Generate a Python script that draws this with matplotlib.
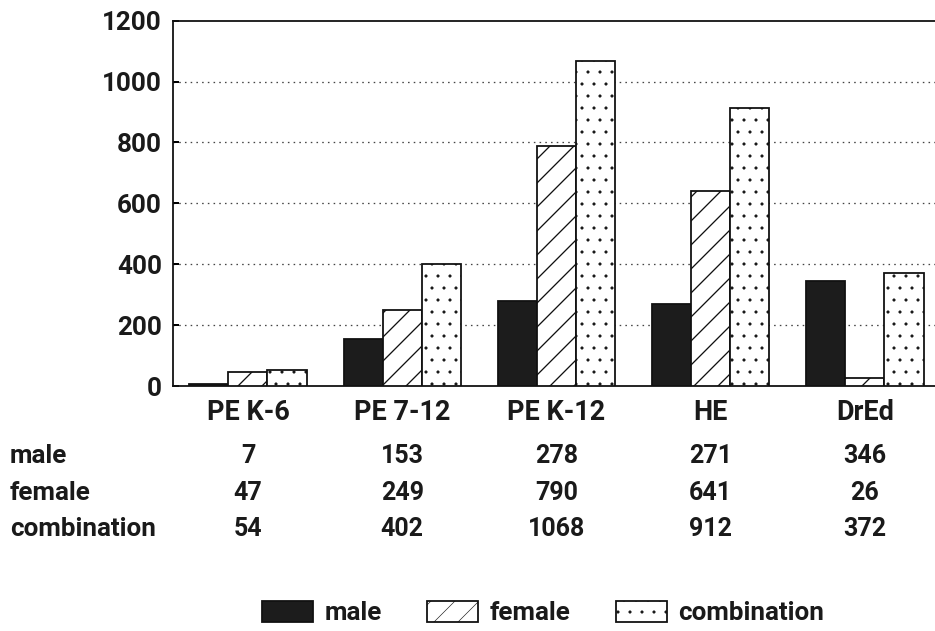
import matplotlib
matplotlib.use("Agg")
import matplotlib.pyplot as plt
import matplotlib.transforms as mtransforms
import numpy as np

# Enrollment counts by program
categories = ["PE K-6", "PE 7-12", "PE K-12", "HE", "DrEd"]
male = [7, 153, 278, 271, 346]
female = [47, 249, 790, 641, 26]
combination = [54, 402, 1068, 912, 372]
series_names = ["male", "female", "combination"]
y_ticks = [0, 200, 400, 600, 800, 1000, 1200]

plt.rcParams["font.family"] = ["Roboto", "DejaVu Sans"]
plt.rcParams["font.weight"] = "bold"

DPI = 72
fig = plt.figure(figsize=(935 / DPI, 631 / DPI), dpi=DPI)
ax = fig.add_axes([173 / 935, 1 - 386 / 631, 1 - 173 / 935 + 0.01, (386 - 20.7) / 631])

x = np.arange(len(categories))
w = 0.253
edge = dict(edgecolor="#111111", linewidth=1.8, zorder=3)

b1 = ax.bar(x - w, male, w, color="#1c1c1c", label=series_names[0], **edge)

plt.rcParams["hatch.linewidth"] = 1.3
plt.rcParams["hatch.color"] = "#222222"
b2 = ax.bar(x, female, w, color="white", hatch="/", label=series_names[1], **edge)

plt.rcParams["hatch.linewidth"] = 0.6
plt.rcParams["hatch.color"] = "#777777"
b3 = ax.bar(x + w, combination, w, color="white", hatch=".", label=series_names[2],
            **edge)

ax.set_xlim(-0.486, 4.454 + 0.01 * 935 / 154.25)
ax.set_ylim(0, 1200)
ax.set_yticks(y_ticks)
ax.set_yticklabels([str(v) for v in y_ticks], fontsize=26, fontweight="bold",
                   color="#1a1a1a")
ax.set_xticks([])
ax.tick_params(axis="y", direction="in", length=6, width=2, pad=11)

for y in y_ticks[1:-1]:
    ax.axhline(y, color="#444444", linewidth=1.3, linestyle=(0, (1.2, 3.2)), zorder=1)

for s in ["left", "bottom", "top"]:
    ax.spines[s].set_linewidth(1.8)
    ax.spines[s].set_color("#111111")
ax.spines["right"].set_visible(False)

# Category labels and data table below the axis
trans = mtransforms.blended_transform_factory(ax.transData, fig.transFigure)
def fy(py):
    return 1 - py / 631

TXT = "#1a1a1a"
for xi, cat in zip(x, categories):
    ax.text(xi, fy(412), cat, transform=trans, ha="center", va="center",
            fontsize=27, fontweight="bold", color=TXT)

rows = [("male", male, 456), ("female", female, 493), ("combination", combination, 529)]
for name, vals, py in rows:
    fig.text(10 / 935, fy(py), name, ha="left", va="center", fontsize=26,
             fontweight="bold", color=TXT)
    for xi, v in zip(x, vals):
        ax.text(xi, fy(py), str(v), transform=trans, ha="center", va="center",
                fontsize=25, fontweight="bold", color=TXT)

leg = fig.legend(handles=[b1, b2, b3], labels=series_names, loc="center",
                 bbox_to_anchor=(543 / 935, fy(613)), ncol=3, frameon=False,
                 prop={"size": 26, "weight": "bold"}, handlelength=1.95,
                 handleheight=0.9, handletextpad=0.45, columnspacing=1.75)
for t in leg.get_texts():
    t.set_color(TXT)

fig.savefig("out.png", dpi=DPI)
